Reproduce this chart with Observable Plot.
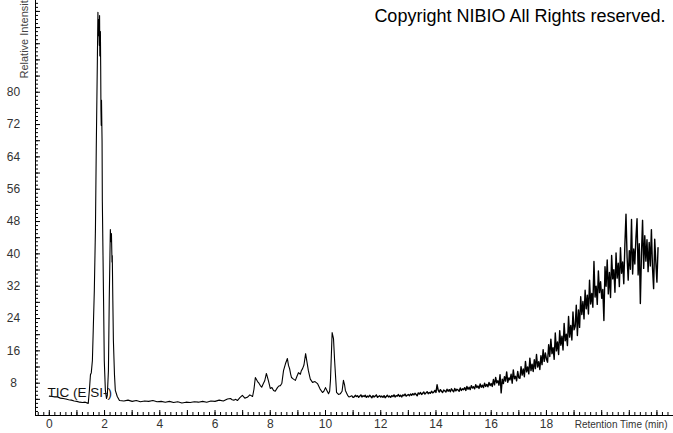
<!DOCTYPE html>
<html><head><meta charset="utf-8">
<script src="https://cdn.jsdelivr.net/npm/d3@7"></script>
<script src="https://cdn.jsdelivr.net/npm/@observablehq/plot@0.6"></script>
<style>html,body{margin:0;padding:0;background:#fff;} svg{display:block}</style>
</head><body><div id="chart"></div>
<script>
// Retention time (min) and relative intensity (%), 0–11 min
const peakTimes = [0.00,0.10,0.20,0.30,0.40,0.50,0.60,0.70,0.80,0.90,1.00,1.10,1.20,1.30,1.41,1.45,1.49,1.52,1.56,1.59,1.63,1.67,1.70,1.74,1.76,1.775,1.79,1.81,1.82,1.83,1.85,1.86,1.87,1.88,1.89,1.91,1.92,1.96,1.99,2.03,2.07,2.10,2.14,2.17,2.21,2.23,2.25,2.27,2.28,2.30,2.32,2.36,2.39,2.46,2.54,2.70,2.85,3.00,3.15,3.30,3.45,3.60,3.75,3.90,4.05,4.20,4.35,4.50,4.65,4.80,4.95,5.10,5.25,5.40,5.55,5.70,5.85,6.00,6.15,6.30,
 6.45,6.56,6.62,6.68,6.75,6.81,6.90,6.99,7.08,7.17,7.26,7.36,7.41,7.46,7.50,7.54,7.59,7.64,7.69,7.75,7.80,7.86,7.93,7.97,8.00,8.06,8.12,8.18,8.26,8.31,8.37,8.42,8.48,8.55,8.62,8.66,8.70,8.74,8.77,8.84,8.91,8.96,9.02,9.09,9.12,9.17,9.22,9.28,9.33,9.38,9.45,9.53,9.62,9.71,9.80,9.89,9.94,10.00,10.05,10.11,10.15,10.18,10.24,10.29,10.33,10.40,10.47,10.54,10.60,10.65,10.69,10.72,10.80,10.85,10.90,10.95,11.00];
const peakValues = [4.8,4.7,4.6,4.6,4.3,4.2,4.1,3.9,3.8,3.6,3.5,3.3,3.2,3.3,3.0,6.2,10.1,10.6,13.6,21,31,46,66,88,99.8,94,98,91.6,99,89,95,86.6,75.5,71.8,78,68,53,31,13.6,6.2,4.2,5.0,11,28.5,46,43,45,38,39.6,28.5,18.6,10,6.2,4.7,3.7,3.6,3.8,3.5,3.7,3.4,3.6,3.5,3.7,3.4,3.5,3.3,3.5,3.2,3.4,3.1,3.3,3.2,3.4,3.3,3.5,3.3,3.6,3.5,3.8,3.6,
 4.1,4.2,3.9,3.8,4.0,3.7,4.4,5.0,4.3,4.5,5.1,4.7,6.5,9.4,8.9,8.4,8.0,7.4,7.0,7.9,8.6,10.4,8.7,7.6,6.7,6.9,6.2,6.0,6.9,7.3,7.4,8.0,11.1,12.8,14.1,12.4,11.6,10.2,9.4,9.0,8.7,9.6,10.6,10.2,11.0,11.6,12.5,15.3,13.2,11.1,9.0,8.2,8.4,7.9,6.6,5.7,6.0,6.9,6.2,5.4,6.0,8.7,20.5,19,13.6,5.7,5.2,5.4,6.0,8.7,7.6,6.2,5.0,4.6,4.7,4.9,4.5];

// Noisy tail, one reading every 0.04 min from 11.04 min
const noisyStart = 11.04;
const noisyStep = 0.04;
const noisyValues = [
 4.6,5.0,4.7,4.9,4.5,4.8,5.1,4.6,4.9,4.7,5.0,4.5,4.8,4.6,5.0,4.7,4.4,4.9,4.6,4.8,5.1,4.5,4.7,4.9,4.6,
 4.8,4.5,4.9,4.4,4.7,5.0,4.6,4.8,4.5,4.9,4.7,5.1,4.6,4.9,4.8,5.2,4.7,5.0,4.6,5.1,4.9,5.3,4.8,5.0,5.2,
 4.9,5.3,5.0,5.4,5.1,5.5,5.2,4.9,5.6,5.3,5.7,5.2,5.5,5.8,5.3,5.6,5.9,5.4,5.7,5.5,6.0,5.6,5.8,6.2,5.7,
 7.6,6.3,5.8,6.4,6.0,5.7,6.3,6.1,5.8,6.5,6.0,6.4,5.9,6.6,6.2,5.9,6.7,6.1,6.5,6.3,6.0,6.8,6.2,6.6,6.4,
 6.9,6.2,7.2,6.5,7.0,6.4,7.4,6.8,7.1,6.6,7.6,6.9,7.3,6.7,7.8,7.0,7.5,6.9,8.0,7.2,7.7,7.1,8.2,7.4,7.9,
 7.2,8.9,7.6,9.4,8.1,8.6,7.5,10.1,5.6,9.0,7.9,9.6,8.5,10.8,8.2,9.3,8.8,10.2,8.0,11.3,9.1,9.7,8.6,10.9,9.3,
 9.2,12.1,10.0,11.5,9.6,13.4,10.8,12.0,10.3,14.2,11.1,12.7,10.9,13.8,11.6,15.1,12.0,13.3,11.4,14.8,12.6,16.3,13.4,15.5,14.0,
 13.2,17.5,14.6,18.9,15.3,16.8,13.9,20.4,16.0,18.2,15.1,21.0,17.4,19.6,16.2,22.8,18.5,20.1,17.3,24.5,19.4,22.3,18.7,25.6,21.2,
 22.0,27.3,19.8,26.1,21.8,29.4,25.0,28.2,23.9,31.0,26.4,29.8,25.1,33.5,27.6,30.2,26.8,38.1,29.3,32.0,27.5,35.8,30.4,33.1,29.0,
 31.2,23.5,36.8,32.0,38.5,30.1,35.4,29.2,39.6,33.8,36.1,30.5,40.2,34.0,37.7,31.9,41.5,35.2,38.0,32.6,42.3,49.8,39.1,33.5,40.8,
 36.2,48.5,35.0,41.2,37.5,44.0,48.7,34.8,42.5,27.7,40.0,48.3,36.4,44.5,38.2,43.5,35.6,42.8,37.0,46.0,36.5,31.4,43.6,38.0,33.0,41.5
];

const xTickLabels = [0,2,4,6,8,10,12,14,16,18];
const yTickLabels = [8,16,24,32,40,48,56,64,72,80];
const traceLabel = "TIC (E SI-)";
const copyright = "Copyright NIBIO All Rights reserved.";
const xTitle = "Retention Time (min)";
const yTitle = "Relative Intensity";

const peakTrace = peakTimes.map((t, i) => ({t, v: peakValues[i]}));
const noisyTrace = [peakTrace[peakTrace.length - 1]]
  .concat(noisyValues.map((v, i) => ({t: noisyStart + i * noisyStep, v})));

const xMinor = d3.range(-0.4, 22.61, 0.2).map(d => +d.toFixed(1));
const xMajor = d3.range(0, 23, 1);
const yMinor = d3.range(1, 103, 1);
const yMajor = d3.range(4, 103, 4);

const W = 673, H = 433, ML = 35, MB = 18;
const frameW = W - ML, frameH = H - MB;

const chart = Plot.plot({
  width: W, height: H,
  marginLeft: ML, marginRight: 0, marginTop: 0, marginBottom: MB,
  x: {domain: [-0.5, 22.6], axis: null},
  y: {domain: [0, 102.7], axis: null},
  style: {fontFamily: "'Liberation Sans', Arial, sans-serif", background: "#fff", color: "#000"},
  marks: [
    Plot.ruleX(xMinor, {stroke: "#000", insetTop: frameH - 3}),
    Plot.ruleX(xMajor, {stroke: "#000", insetTop: frameH - 5}),
    Plot.ruleY(yMinor, {stroke: "#000", insetRight: frameW - 3}),
    Plot.ruleY(yMajor, {stroke: "#000", insetRight: frameW - 5}),
    Plot.ruleX([-0.5], {stroke: "#000"}),
    Plot.ruleY([0], {stroke: "#000"}),
    Plot.text(xTickLabels, {x: d => d, frameAnchor: "bottom", dy: 12, fontSize: 12, fill: "#333"}),
    Plot.text(yTickLabels, {y: d => d, frameAnchor: "left", dx: -22, textAnchor: "middle", fontSize: 12, fill: "#333"}),
    Plot.text([xTitle], {frameAnchor: "bottom-right", dx: -6, dy: 12, textAnchor: "end", fontSize: 10, fill: "#333"}),
    Plot.text([yTitle], {frameAnchor: "top-left", dx: -15, dy: 78, textAnchor: "start", rotate: -90, fontSize: 11, fill: "#444"}),
    Plot.line(peakTrace, {x: "t", y: "v", stroke: "#000", strokeWidth: 1.1}),
    Plot.line(noisyTrace, {x: "t", y: "v", stroke: "#000", strokeWidth: 1.4}),
    Plot.text([traceLabel], {frameAnchor: "bottom-left", dx: 12, dy: -19, textAnchor: "start", fontSize: 13.5, fill: "#111"}),
    Plot.text([copyright], {frameAnchor: "top-right", dx: -8, dy: 9, textAnchor: "end", fontSize: 18, fill: "#000"})
  ]
});
document.getElementById("chart").appendChild(chart);
</script>
</body></html>
